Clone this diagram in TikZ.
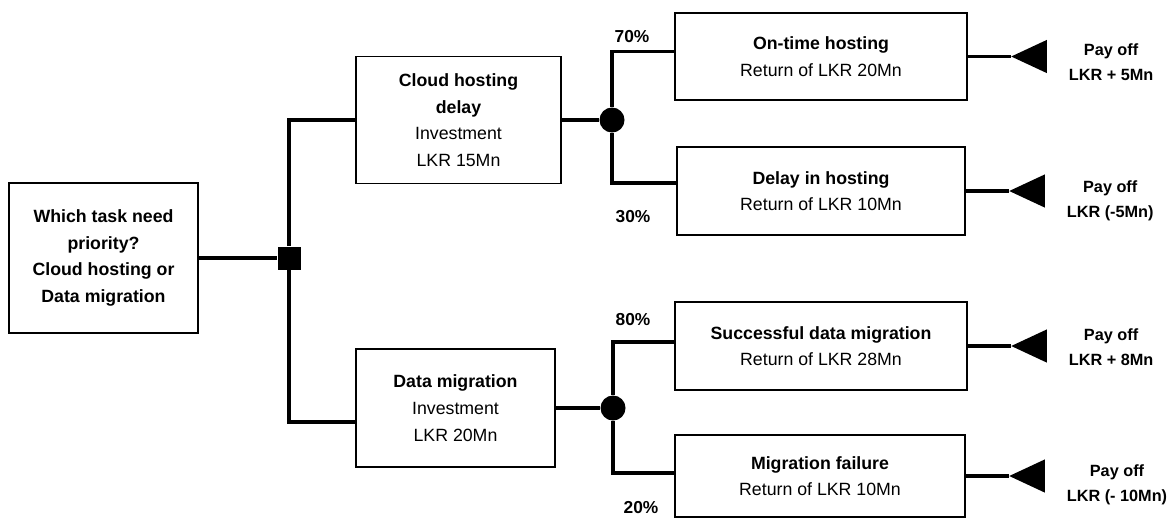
\documentclass[tikz,border=0pt]{standalone}
\usepackage{fontspec}
\setmainfont{Liberation Sans}
\usepackage{tikz}
\usetikzlibrary{positioning,shapes.geometric}
\tikzset{box/.style={draw=black, line width=1.4pt, align=center, inner sep=2pt,
    font=\fontsize{13.3}{20}\selectfont},
branch/.style={line width=2.3pt},
decision/.style={fill=black, rectangle, minimum size=17.25pt, inner sep=0pt},
chance/.style={fill=black, circle, minimum size=18.75pt, inner sep=0pt},
endtri/.style={fill=black, isosceles triangle, isosceles triangle apex angle=50,
    shape border rotate=180, minimum size=25pt, inner sep=0pt},
payoff/.style={align=center, inner sep=1pt, font=\fontsize{12.2}{19}\selectfont\bfseries},
prob/.style={font=\fontsize{13}{15}\selectfont\bfseries}}

\begin{document}
\begin{tikzpicture}[x=0.75pt, y=-0.75pt]
        \useasboundingbox (0,0) rectangle (1176,519);

        % question and first split
        \node[box, minimum width=141.75pt, minimum height=112.5pt] (q) at (103.5,258)
            {\textbf{Which task need}\\\textbf{priority?}\\\textbf{Cloud hosting or}\\\textbf{Data migration}};
        \node[decision] (dec) at (289,258) {};
        \node[box, minimum width=153.75pt, minimum height=95.25pt] (cloud) at (458.5,120)
            {\textbf{Cloud hosting}\\\textbf{delay}\\Investment\\LKR 15Mn};
        \node[box, minimum width=149.25pt, minimum height=88.5pt] (mig) at (455.5,408)
            {\textbf{Data migration}\\Investment\\LKR 20Mn};
        \draw[branch] (q) -- (dec);
        \draw[branch] (dec) |- (cloud);
        \draw[branch] (dec) |- ([yshift=-10.5pt]mig.west);

        % chance nodes
        \node[chance] (cc) at (612,120) {};
        \node[chance] (cm) at (613,408) {};
        \draw[branch] (cloud) -- (cc);
        \draw[branch] (mig) -- (cm);

        % outcomes
        \node[box, minimum width=219pt, minimum height=65.25pt] (ot) at (821,56.5)
            {\textbf{On-time hosting}\\Return of LKR 20Mn};
        \node[box, minimum width=216pt, minimum height=66pt] (dh) at (821,191)
            {\textbf{Delay in hosting}\\Return of LKR 10Mn};
        \node[box, minimum width=219pt, minimum height=66pt] (sm) at (821,346)
            {\textbf{Successful data migration}\\Return of LKR 28Mn};
        \node[box, minimum width=217.5pt, minimum height=61.5pt] (mf) at (820,476)
            {\textbf{Migration failure}\\Return of LKR 10Mn};
        \draw[branch] (cc) |- ([yshift=3.5pt]ot.west);
        \draw[branch] (cc) |- ([yshift=6pt]dh.west);
        \draw[branch] (cm) |- ([yshift=3pt]sm.west);
        \draw[branch] (cm) |- ([yshift=2.25pt]mf.west);

        % probabilities
        \node[prob] (p70) at (632,37) {70\%};
        \node[prob] (p30) at (633,217) {30\%};
        \node[prob] (p80) at (633,320) {80\%};
        \node[prob] (p20) at (641,508) {20\%};

        % pay offs
        \foreach \n/\val/\dy in {ot/{LKR + 5Mn}/-4.5pt, dh/{LKR (-5Mn)}/-7.5pt, sm/{LKR + 8Mn}/-1pt, mf/{LKR (- 10Mn)}/-6.5pt}{
            \node[endtri, anchor=apex] (\n-end) at ([xshift=32pt]\n.east) {};
            \draw[branch] (\n.east) -- (\n-end.apex);
            \node[payoff, right=15pt of \n-end, yshift=\dy] (\n-pay) {Pay off\\\val};
        }

    \end{tikzpicture}
\end{document}
